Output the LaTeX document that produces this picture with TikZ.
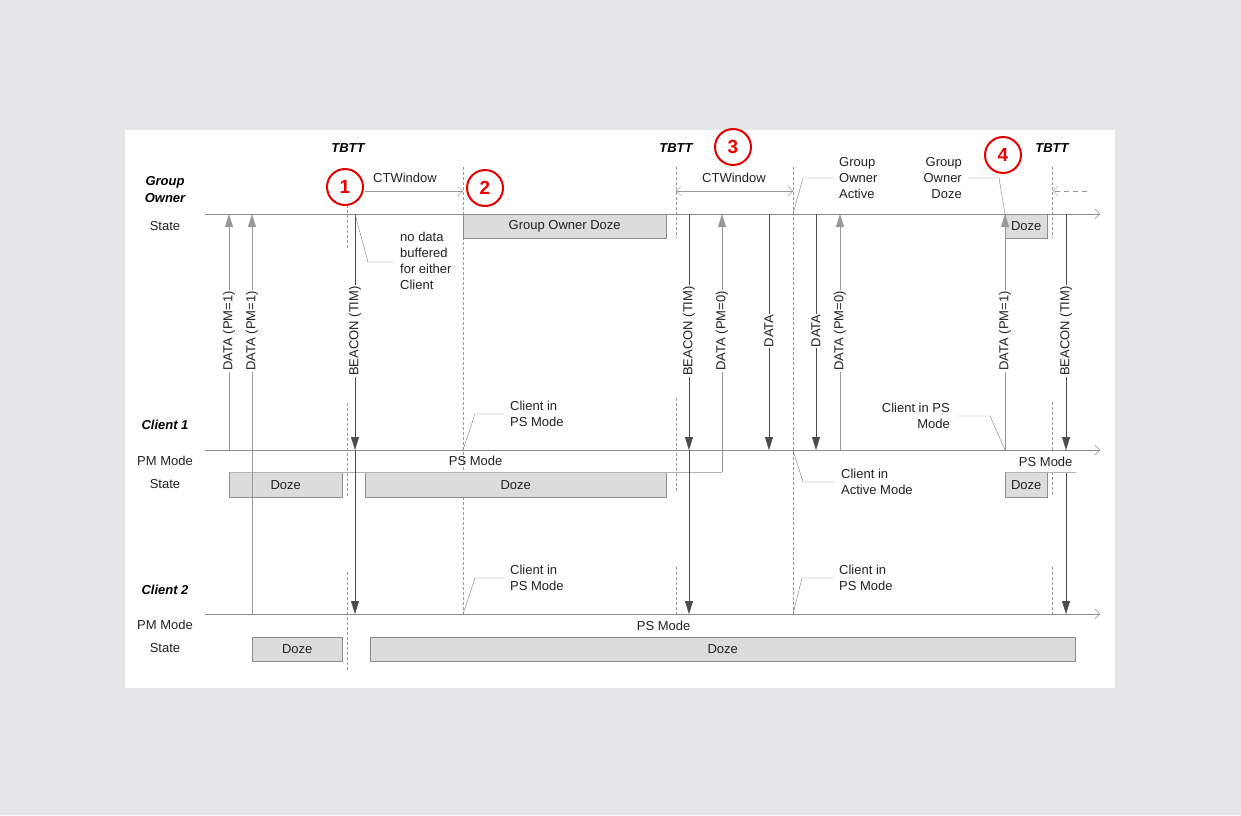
\documentclass[tikz,border=0pt]{standalone}
\usepackage{fontspec}
\setmainfont{Liberation Sans}
\usetikzlibrary{calc, positioning, arrows.meta, backgrounds}
\definecolor{pagegray}{HTML}{E5E6E8}
\definecolor{dozegray}{HTML}{DCDCDC}
\definecolor{markred}{HTML}{E60000}
\definecolor{inkgray}{HTML}{222222}
\def\goy{214}
\def\cay{450}
\def\cby{614}
\def\laby{331}
\tikzstyle{every node}=[font=\fontsize{13}{16}\selectfont, text=inkgray]
\tikzstyle{timeline}=[draw=black!45, -{Straight Barb[length=5pt,width=10pt]}]
\tikzstyle{tbtt line}=[draw=black!40, dash pattern=on 3pt off 2pt]
\tikzstyle{window}=[draw=black!40]
\tikzstyle{msg up}=[draw=black!40, -{Triangle[length=13pt,width=8pt]}]
\tikzstyle{msg down}=[draw=black!70, -{Triangle[length=13pt,width=8pt]}]
\tikzstyle{msg label}=[rotate=90, fill=white, inner sep=1pt]
\tikzstyle{dozebox}=[draw=black!45, fill=dozegray, anchor=north west, inner sep=0pt]
\tikzstyle{modeband}=[anchor=north west, inner sep=0pt]
\tikzstyle{bandedge}=[draw=black!30]
\tikzstyle{leader}=[draw=black!50]
\tikzstyle{note}=[align=left, anchor=west, inner xsep=6pt]
\tikzstyle{note right}=[align=right, anchor=east, inner xsep=6pt]
\tikzstyle{num mark}=[circle, draw=markred, line width=2pt, minimum size=36pt, inner sep=0pt, text=markred, font=\fontsize{19}{19}\selectfont\bfseries]
\tikzstyle{row title}=[font=\fontsize{13}{17}\selectfont\bfseries\itshape, text=black, align=center]

\begin{document}
\begin{tikzpicture}[x=1pt, y=-1pt, >={Straight Barb[length=5pt,width=10pt]}]
		% Draw the page and the panel
		\fill[pagegray] (0,0) rectangle (1241,815);
		\fill[white] (125,130) rectangle (1115,688);
		% Draw the row titles
		\node[row title] (GO-title) at (165,189.5) {Group\\Owner};
		\node (GO-state) at (165,226) {State};
		\node[row title] (C1-title) at (165,425) {Client 1};
		\node (C1-mode) at (165,461) {PM Mode};
		\node (C1-state) at (165,484) {State};
		\node[row title] (C2-title) at (165,590) {Client 2};
		\node (C2-mode) at (165,625) {PM Mode};
		\node (C2-state) at (165,648) {State};
		% Draw the time lines
		\foreach \name/\y in {GO/\goy, C1/\cay, C2/\cby}
		{
			\coordinate (\name-start) at (205,\y);
			\coordinate (\name-end) at (1100,\y);
			\draw[timeline] (\name-start) -- (\name-end);
		}
		% Draw the TBTT and window marks
		\foreach \x / \ya / \yb in {347/205/248, 347/403/497, 347/572/672, 463/167/614, 676/167/238, 676/398/492, 676/567/614, 793/167/614, 1052/167/238, 1052/402/497, 1052/567/614}
		\draw[tbtt line] (\x,\ya) -- (\x,\yb);
		\foreach \name / \x in {1/348, 2/676, 3/1052}
		\node[row title] (TBTT-\name) at (\x,148) {TBTT};
		% Draw the state boxes
		\node[dozebox, minimum width=203, minimum height=24] (GO-doze-1) at (463,\goy) {Group Owner Doze};
		\node[dozebox, minimum width=42, minimum height=24] (GO-doze-2) at (1005,\goy) {Doze};
		\node[dozebox, minimum width=113, minimum height=25] (C1-doze-1) at (229,472) {Doze};
		\node[dozebox, minimum width=301, minimum height=25] (C1-doze-2) at (365,472) {Doze};
		\node[dozebox, minimum width=42, minimum height=25] (C1-doze-3) at (1005,472) {Doze};
		\node[dozebox, minimum width=90, minimum height=24] (C2-doze-1) at (252,637) {Doze};
		\node[dozebox, minimum width=705, minimum height=24] (C2-doze-2) at (370,637) {Doze};
		% Draw the power management mode bands
		\node[modeband, minimum width=493, minimum height=22] (C1-band-1) at (229,\cay) {PS Mode};
		\node[modeband, minimum width=823, minimum height=23] (C2-band) at (252,\cby) {PS Mode};
		\draw[bandedge] (C1-band-1.south west) -- (C1-band-1.south east);
		% Draw the frames sent up to the group owner
		\foreach \name / \x / \y / \txt in {up-1/229/\cay/DATA (PM=1), up-2/252/\cby/DATA (PM=1), up-3/722/472/DATA (PM=0), up-4/840/\cay/DATA (PM=0), up-5/1005/\cay/DATA (PM=1)}
		{
			\coordinate (\name-s) at (\x,\y);
			\coordinate (\name-e) at (\x,\goy);
			\draw[msg up] (\name-s) -- (\name-e);
			\node[msg label] (\name-label) at (\x,\laby) {\txt};
		}
		% Draw the beacons sent to both clients
		\foreach \name / \x in {bc-1/355, bc-2/689, bc-3/1066}
		{
			\coordinate (\name-go) at (\x,\goy);
			\coordinate (\name-c1) at (\x,\cay);
			\coordinate (\name-c2) at (\x,\cby);
			\draw[msg down] (\name-go) -- (\name-c1);
			\draw[msg down] (\name-c1) -- (\name-c2);
			\node[msg label] (\name-label) at (\x,\laby) {BEACON (TIM)};
		}
		% Draw the data sent down to client 1
		\foreach \name / \x in {dn-1/769, dn-2/816}
		{
			\coordinate (\name-go) at (\x,\goy);
			\coordinate (\name-c1) at (\x,\cay);
			\draw[msg down] (\name-go) -- (\name-c1);
			\node[msg label] (\name-label) at (\x,\laby) {DATA};
		}
		% The last band lies over the beacon line
		\node[modeband, fill=white, minimum width=80, minimum height=21.5] (C1-band-2) at (1005.5,\cay+0.5) {PS Mode};
		\draw[bandedge] (C1-band-2.south west) -- ++(70,0);
		% Draw the numbered marks and the windows
		\node[num mark] (M-1) at (345,187) {1};
		\node[num mark] (M-2) at (485,188) {2};
		\node[num mark] (M-3) at (733,147) {3};
		\node[num mark] (M-4) at (1003,155) {4};
		\coordinate (CW1-s) at (365,191);
		\coordinate (CW1-e) at (463,191);
		\coordinate (CW2-s) at (676,191);
		\coordinate (CW2-e) at (793,191);
		\coordinate (CW3-s) at (1087,191);
		\coordinate (CW3-e) at (1053,191);
		\draw[window, ->] (CW1-s) -- (CW1-e);
		\draw[window, <->] (CW2-s) -- (CW2-e);
		\draw[window, dash pattern=on 5pt off 4pt, ->] (CW3-s) -- (CW3-e);
		\node (CW1-label) at (405,178) {CTWindow};
		\node (CW2-label) at (734,178) {CTWindow};
		% Draw the notes and their leaders
		\node[note] (nodata) at (394,260.5) {no data\\buffered\\for either\\Client};
		\draw[leader] (bc-1-go) -- (368,262) -- (nodata.west |- 0,262);
		\node[note] (GO-active) at (833,178) {Group\\Owner\\Active};
		\draw[leader] (CW2-e |- GO-start) -- (803,178) -- (GO-active.west);
		\node[note right] (GO-dozing) at (968,178) {Group\\Owner\\Doze};
		\draw[leader] (up-5-e) -- (999,178) -- (GO-dozing.east);
		\node[note] (C1-ps-1) at (504,414) {Client in\\PS Mode};
		\draw[leader] (CW1-e |- C1-start) -- (475,414) -- (C1-ps-1.west);
		\node[note] (C1-active) at (835,482) {Client in\\Active Mode};
		\draw[leader] (CW2-e |- C1-start) -- (803,482) -- (C1-active.west);
		\node[note right] (C1-ps-2) at (956,416) {Client in PS\\Mode};
		\draw[leader] (up-5-s) -- (990,416) -- (C1-ps-2.east);
		\node[note] (C2-ps-1) at (504,578) {Client in\\PS Mode};
		\draw[leader] (CW1-e |- C2-start) -- (475,578) -- (C2-ps-1.west);
		\node[note] (C2-ps-2) at (833,578) {Client in\\PS Mode};
		\draw[leader] (CW2-e |- C2-start) -- (802,578) -- (C2-ps-2.west);
	\end{tikzpicture}
\end{document}
